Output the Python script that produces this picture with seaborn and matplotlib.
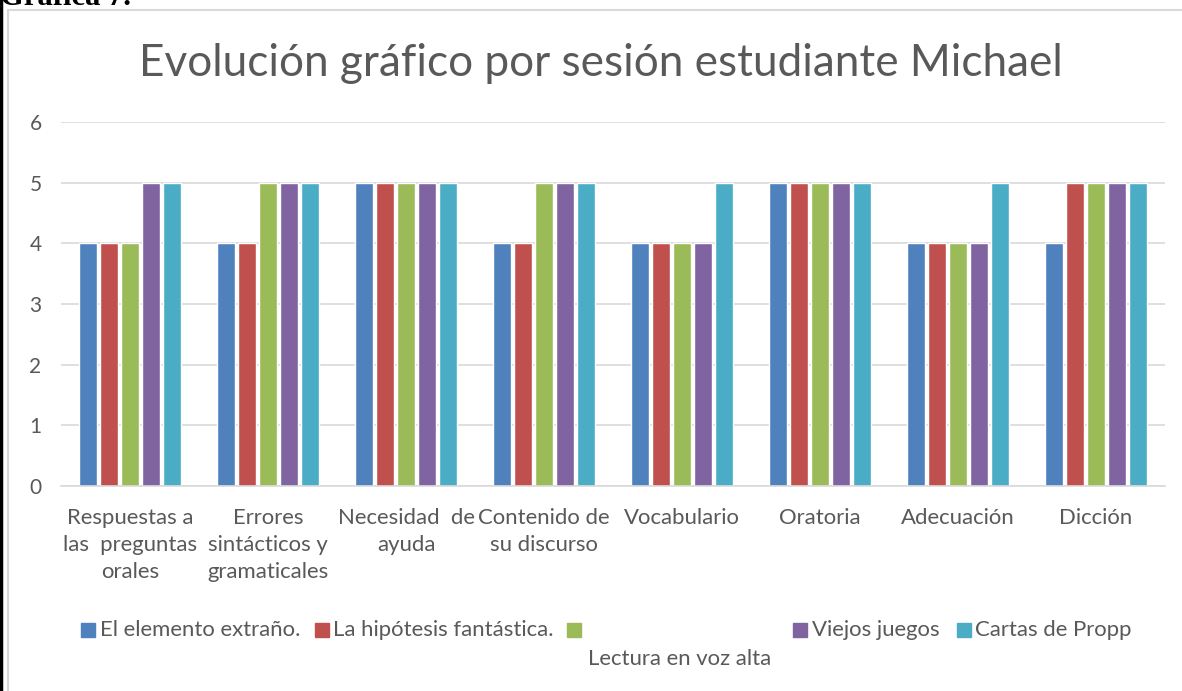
import matplotlib
matplotlib.use('Agg')
import matplotlib.pyplot as plt
import seaborn as sns
import pandas as pd
from matplotlib.patches import Rectangle
from matplotlib.lines import Line2D

categories = ['Respuestas a las preguntas orales', 'Errores sintácticos y gramaticales',
              'Necesidad de ayuda', 'Contenido de su discurso', 'Vocabulario',
              'Oratoria', 'Adecuación', 'Dicción']
tick_labels = ['Respuestas a\nlas  preguntas\norales', 'Errores\nsintácticos y\ngramaticales',
               'Necesidad  de\nayuda', 'Contenido de\nsu discurso', 'Vocabulario',
               'Oratoria', 'Adecuación', 'Dicción']
sessions = ['El elemento extraño.', 'La hipótesis fantástica.', 'Lectura en voz alta',
            'Viejos juegos', 'Cartas de Propp']
elemento = [4, 4, 5, 4, 4, 5, 4, 4]
hipotesis = [4, 4, 5, 4, 4, 5, 4, 5]
lectura = [4, 5, 5, 5, 4, 5, 4, 5]
viejos = [5, 5, 5, 5, 4, 5, 4, 5]
propp = [5, 5, 5, 5, 5, 5, 5, 5]
colors = ['#4F81BD', '#C0504D', '#9BBB59', '#8064A2', '#4BACC6']

rows = []
for s, vals in zip(sessions, [elemento, hipotesis, lectura, viejos, propp]):
    for c, v in zip(categories, vals):
        rows.append({'categoria': c, 'sesion': s, 'valor': v})
df = pd.DataFrame(rows)

sns.set_theme(style='white')
plt.rcParams['font.family'] = ['Lato', 'DejaVu Sans']
GREY = '#595959'

W, H = 1182, 691
fig = plt.figure(figsize=(W / 100, H / 100), dpi=100)
renderer = fig.canvas.get_renderer()


def fit_size(text, target_px, base=12):
    # font size that makes `text` about target_px wide
    t = fig.text(0, 0, text, fontsize=base)
    w = t.get_window_extent(renderer).width
    t.remove()
    return base * target_px / w


ax = fig.add_axes([61 / W, 1 - 486 / H, 1104 / W, 364 / H])
sns.barplot(data=df, x='categoria', y='valor', hue='sesion', order=categories,
            hue_order=sessions, palette=colors, width=0.76, gap=0.18, ax=ax,
            legend=False, saturation=1)

ax.set_ylim(0, 6)
ax.set_yticks(range(0, 7))
ax.grid(axis='y', color='#D9D9D9', linewidth=1.2)
ax.set_axisbelow(True)
for side in ['top', 'right', 'left']:
    ax.spines[side].set_visible(False)
ax.spines['bottom'].set_color('#D9D9D9')
ax.spines['bottom'].set_linewidth(1.2)
lab_size = fit_size('Respuestas a', 126)
ax.set_xticks(range(len(categories)))
ax.set_xticklabels(tick_labels, fontsize=lab_size, color=GREY, linespacing=1.45)
ax.tick_params(axis='y', labelsize=15, labelcolor=GREY, length=0, pad=14)
ax.tick_params(axis='x', length=0, pad=15.5)
ax.set_xlabel('')
ax.set_ylabel('')
ax.set_xlim(-0.5, len(categories) - 0.5)

title = 'Evolución gráfico por sesión estudiante Michael'
fig.text(601 / W, 0.908, title, ha='center', va='center',
         fontsize=fit_size(title, 922), color=GREY)

# legend, laid out as in the original (green entry's text wraps to a second line)
leg_size = fit_size(sessions[0], 200)
sq = 14
box_x = [81, 315, 567, 793, 957]
text_x = [100, 333, 588, 812, 975]
row_y = [630, 630, 659, 630, 630]
for c, bx, tx, ty, name in zip(colors, box_x, text_x, row_y, sessions):
    fig.patches.append(Rectangle((bx / W, 1 - (630 + sq / 2) / H), sq / W, sq / H,
                                 transform=fig.transFigure, color=c))
    fig.text(tx / W, 1 - ty / H, name, ha='left', va='center', fontsize=leg_size, color=GREY)

# chart frame and page border
fig.patches.append(Rectangle((8 / W, -0.01), 1.0, 1 - 10 / H + 0.01, transform=fig.transFigure,
                             fill=False, edgecolor='#D9D9D9', linewidth=1.5, zorder=0))
fig.lines.append(Line2D([1.5 / W, 1.5 / W], [0, 1], transform=fig.transFigure,
                        color='black', linewidth=2.5))
fig.text(0, 1 - 5 / H, 'Gráfica 7.', ha='left', va='baseline', fontsize=22,
         fontweight='bold', family='Liberation Serif', color='black')

fig.savefig('out.png', dpi=100)
